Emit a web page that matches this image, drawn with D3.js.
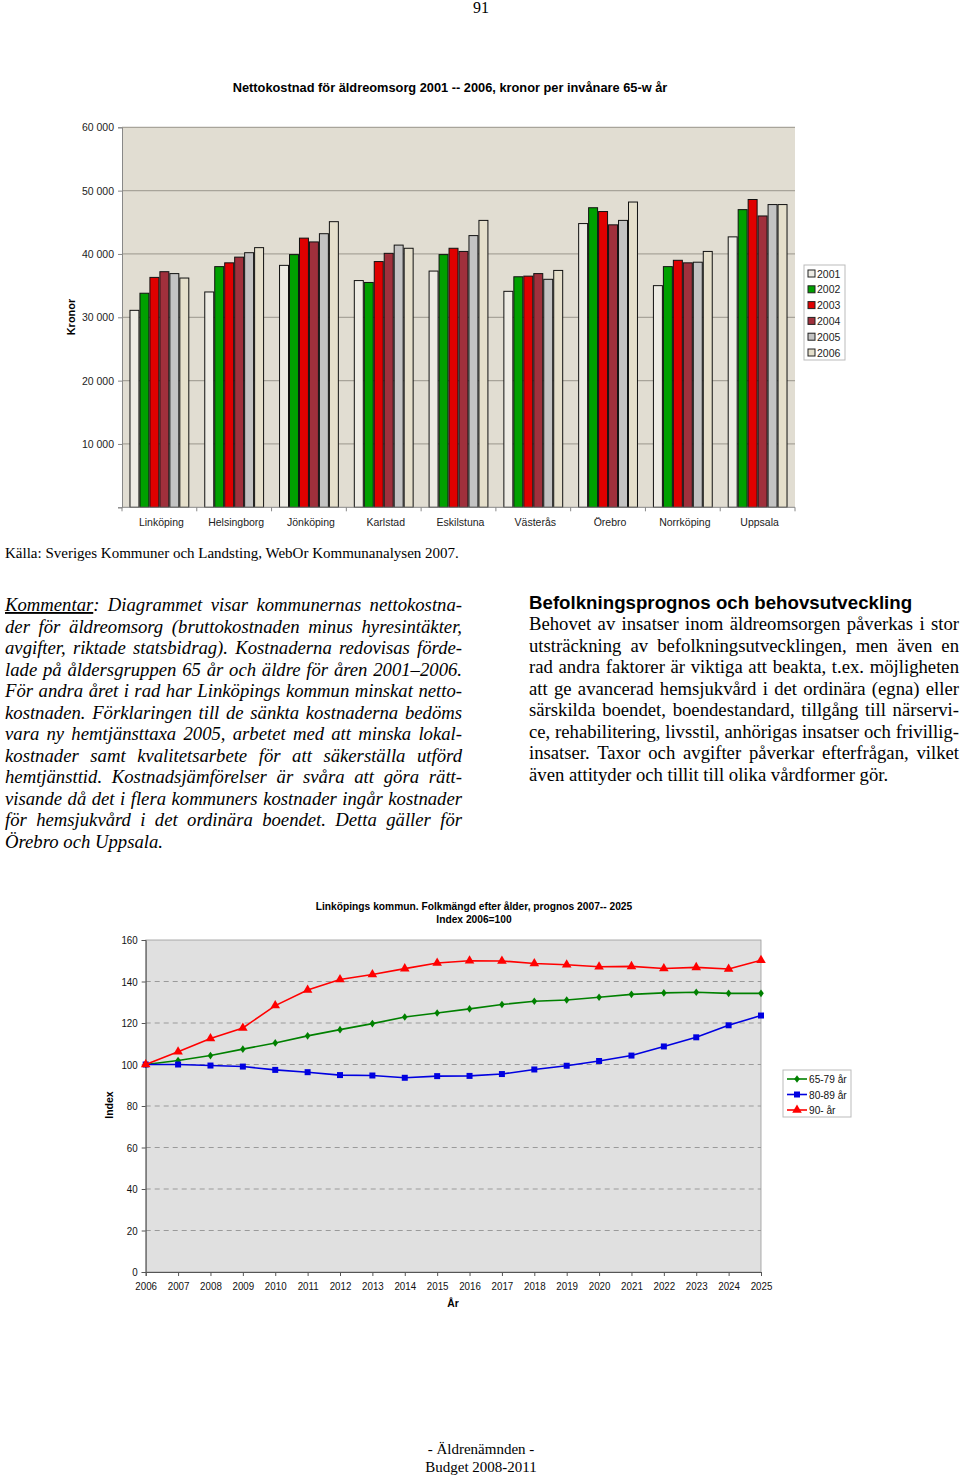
<!DOCTYPE html>
<html><head><meta charset="utf-8">
<script src="https://cdn.jsdelivr.net/npm/d3@7"></script>
<style>
html,body{margin:0;padding:0;background:#fff;}
svg{display:block;}
</style></head>
<body>
<script>
// ---------- DATA ----------
const categories = ["Linköping","Helsingborg","Jönköping","Karlstad","Eskilstuna","Västerås","Örebro","Norrköping","Uppsala"];
const years = ["2001","2002","2003","2004","2005","2006"];
const s2001 = [31100,34000,38200,35800,37300,34100,44800,35000,42700];
const s2002 = [33800,38000,39900,35500,39900,36400,47300,38000,47000];
const s2003 = [36300,38600,42500,38800,40900,36500,46700,39000,48600];
const s2004 = [37200,39500,41900,40100,40400,36900,44600,38600,46000];
const s2005 = [36900,40200,43200,41400,42900,36000,45300,38700,47800];
const s2006 = [36200,41000,45100,40900,45300,37400,48200,40400,47800];
const barTicks = [10000,20000,30000,40000,50000,60000];

const progYears = [2006,2007,2008,2009,2010,2011,2012,2013,2014,2015,2016,2017,2018,2019,2020,2021,2022,2023,2024,2025];
const age6579 = [100,101.9,104.3,107.4,110.4,113.8,116.8,119.7,122.9,124.8,126.8,128.9,130.5,131.1,132.4,133.8,134.5,134.8,134.3,134.3];
const age8089 = [100,100,99.5,99.0,97.4,96.3,94.9,94.7,93.6,94.4,94.5,95.4,97.6,99.4,101.7,104.3,108.7,113.1,118.9,123.6];
const age90 = [100,106.1,112.5,117.6,128.4,135.9,141.0,143.4,146.2,148.9,150.0,149.9,148.7,148.1,147.1,147.3,146.3,146.8,146.0,150.2];
const lineTicks = [0,20,40,60,80,100,120,140,160];
const seriesNames = ["65-79 år","80-89 år","90- år"];

const leftLines = [
 "Diagrammet visar kommunernas nettokostna-",
 "der för äldreomsorg (bruttokostnaden minus hyresintäkter,",
 "avgifter, riktade statsbidrag). Kostnaderna redovisas förde-",
 "lade på åldersgruppen 65 år och äldre för åren 2001–2006.",
 "För andra året i rad har Linköpings kommun minskat netto-",
 "kostnaden. Förklaringen till de sänkta kostnaderna bedöms",
 "vara ny hemtjänsttaxa 2005, arbetet med att minska lokal-",
 "kostnader samt kvalitetsarbete för att säkerställa utförd",
 "hemtjänsttid. Kostnadsjämförelser är svåra att göra rätt-",
 "visande då det i flera kommuners kostnader ingår kostnader",
 "för hemsjukvård i det ordinära boendet. Detta gäller för",
 "Örebro och Uppsala."
];
const rightLines = [
 "Behovet av insatser inom äldreomsorgen påverkas i stor",
 "utsträckning av befolkningsutvecklingen, men även en",
 "rad andra faktorer är viktiga att beakta, t.ex. möjligheten",
 "att ge avancerad hemsjukvård i det ordinära (egna) eller",
 "särskilda boendet, boendestandard, tillgång till närservi-",
 "ce, rehabilitering, livsstil, anhörigas insatser och frivillig-",
 "insatser. Taxor och avgifter påverkar efterfrågan, vilket",
 "även attityder och tillit till olika vårdformer gör."
];

// ---------- PAGE ----------
const W = 960, H = 1478;
const svg = d3.select("body").append("svg").attr("width", W).attr("height", H);
const SANS = "'Liberation Sans', Arial, sans-serif";
const SERIF = "'Liberation Serif', 'Times New Roman', serif";
const NARROW = "'Liberation Sans Narrow', 'Arial Narrow', 'Liberation Sans', sans-serif";
const NX = 0.85; // horizontal squeeze to mimic a narrow face

svg.append("text").attr("x", 481).attr("y", 13).attr("text-anchor","middle")
  .style("font-family", SERIF).style("font-size","16px").text("91");

// ---------- BAR CHART ----------
const bx0 = 122, bx1 = 795, by0 = 127.3, by1 = 507.3;
const yB = d3.scaleLinear().domain([0,60000]).range([by1, by0]);
const xB = d3.scaleBand().domain(categories).range([bx0, bx1]).paddingInner(0.2).paddingOuter(0.1);
const xYear = d3.scaleBand().domain(years).range([0, xB.bandwidth()]);
const barColors = ["#EDEBE4","#00A000","#E00000","#A0303C","#C3C3C3","#E5DFCB"];
const cB = d3.scaleOrdinal().domain(years).range(barColors);
const seriesB = [s2001,s2002,s2003,s2004,s2005,s2006];

svg.append("text").attr("x", 450).attr("y", 92).attr("text-anchor","middle")
  .style("font-family", SANS).style("font-weight","bold").style("font-size","12.8px")
  .text("Nettokostnad för äldreomsorg 2001 -- 2006, kronor per invånare 65-w år");

svg.append("rect").attr("x", bx0).attr("y", by0).attr("width", bx1-bx0).attr("height", by1-by0)
  .attr("fill", "#E1DDD2");

const gB = svg.append("g");
gB.selectAll("line.grid").data(barTicks).join("line")
  .attr("x1", bx0).attr("x2", bx1).attr("y1", d=>yB(d)).attr("y2", d=>yB(d))
  .attr("stroke", "#A8A49A").attr("stroke-width", 1.3);

const groups = gB.selectAll("g.cat").data(categories).join("g")
  .attr("transform", d=>`translate(${xB(d)},0)`);
groups.selectAll("rect").data((d,i)=>years.map((y,j)=>({year:y, v:seriesB[j][i]}))).join("rect")
  .attr("x", d=>xYear(d.year)+0.5).attr("width", xYear.bandwidth()-1)
  .attr("y", d=>yB(d.v)).attr("height", d=>by1 - yB(d.v))
  .attr("fill", d=>cB(d.year)).attr("stroke", "#111").attr("stroke-width", 1);

const axL = d3.axisLeft(yB).tickValues([0].concat(barTicks)).tickSize(4).tickPadding(4)
  .tickFormat(d => d === 0 ? "" : d3.format(",")(d).replace(",", " "));
const gAxL = svg.append("g").attr("transform", `translate(${bx0},0)`).call(axL);
gAxL.selectAll("text").style("font-family", SANS).style("font-size","10.5px").attr("fill","#222");
gAxL.selectAll("line, path").attr("stroke","#888");

const gAxB = svg.append("g").attr("transform", `translate(0,${by1})`);
gAxB.append("line").attr("x1", bx0).attr("x2", bx1).attr("stroke","#888");
gAxB.selectAll("line.tk").data(d3.range(categories.length+1)).join("line")
  .attr("x1", i=>bx0 + i*xB.step()).attr("x2", i=>bx0 + i*xB.step()).attr("y1",0).attr("y2",4).attr("stroke","#888");
gAxB.selectAll("text").data(categories).join("text")
  .attr("x", d=>xB(d)+xB.bandwidth()/2 + 2).attr("y", 19).attr("text-anchor","middle")
  .style("font-family", SANS).style("font-size","10.5px").attr("fill","#222").text(d=>d);

svg.append("text").attr("transform","translate(75,317) rotate(-90)").attr("text-anchor","middle")
  .style("font-family", SANS).style("font-weight","bold").style("font-size","11px").text("Kronor");

const lgB = svg.append("g").attr("transform","translate(804,265)");
lgB.append("rect").attr("width",41).attr("height",95).attr("fill","#fff").attr("stroke","#bbb");
years.forEach((y,i)=>{
  const g = lgB.append("g").attr("transform", `translate(0,${8.5 + i*15.8})`);
  g.append("rect").attr("x",4).attr("y",-3.5).attr("width",7).attr("height",7).attr("fill",cB(y)).attr("stroke","#222");
  g.append("text").attr("x",13).attr("y",4).style("font-family",SANS).style("font-size","10.5px").attr("fill","#222").text(y);
});

svg.append("text").attr("x", 5).attr("y", 558)
  .style("font-family", SERIF).style("font-size","15px")
  .text("Källa: Sveriges Kommuner och Landsting, WebOr Kommunanalysen 2007.");

// ---------- TEXT COLUMNS ----------
function justify(t, width, doIt){
  if(!doIt) return;
  const node = t.node();
  const nat = node.getComputedTextLength();
  const s = node.textContent.split(" ").length - 1;
  if (s > 0) t.attr("word-spacing", (width - nat)/s);
}
leftLines.forEach((line,i)=>{
  const t = svg.append("text").attr("x",5).attr("y", 611 + i*21.5)
    .style("font-family",SERIF).style("font-style","italic").style("font-size","18.7px");
  if (i === 0){
    t.append("tspan").style("text-decoration","underline").text("Kommentar");
    t.append("tspan").text(": " + line);
  } else t.text(line);
  justify(t, 457, i < leftLines.length-1);
});
svg.append("text").attr("x",529).attr("y",609)
  .style("font-family",SANS).style("font-weight","bold").style("font-size","18.7px")
  .text("Befolkningsprognos och behovsutveckling");
rightLines.forEach((line,i)=>{
  const t = svg.append("text").attr("x",529).attr("y", 630 + i*21.5)
    .style("font-family",SERIF).style("font-size","18.7px").text(line);
  justify(t, 430, i < rightLines.length-1);
});

// ---------- LINE CHART ----------
const lx0 = 145.7, lx1 = 761, ly0 = 940, ly1 = 1272;
const xL = d3.scaleLinear().domain([2006,2025]).range([lx0,lx1]);
const yL = d3.scaleLinear().domain([0,160]).range([ly1,ly0]);
const lineColors = ["#008000","#0000E0","#FF0000"];
const lineData = [age6579, age8089, age90];

function narrowText(x, y, txt, size, bold, sx){
  const g = svg.append("g").attr("transform",`translate(${x},${y}) scale(${sx},1)`);
  g.append("text").attr("text-anchor","middle")
    .style("font-family",NARROW).style("font-weight",bold?"bold":"normal").style("font-size",size)
    .text(txt);
  return g;
}
narrowText(474, 910, "Linköpings kommun. Folkmängd efter ålder, prognos 2007-- 2025", "11.5px", true, 0.89);
narrowText(474, 923, "Index 2006=100", "11.5px", true, 0.89);

svg.append("rect").attr("x",lx0).attr("y",ly0).attr("width",lx1-lx0).attr("height",ly1-ly0)
  .attr("fill","#E0E0E0").attr("stroke","#9a9a9a").attr("stroke-width",0.8);
svg.append("g").selectAll("line").data(lineTicks.filter(d=>d>0 && d<160)).join("line")
  .attr("x1",lx0).attr("x2",lx1).attr("y1",d=>yL(d)).attr("y2",d=>yL(d))
  .attr("stroke","#9a9a9a").attr("stroke-dasharray","5,4").attr("stroke-width",1);

const axYL = d3.axisLeft(yL).tickValues(lineTicks).tickSize(4).tickPadding(4);
const gYL = svg.append("g").attr("transform",`translate(${lx0},0)`).call(axYL);
gYL.selectAll("text").style("font-family",NARROW).style("font-size","11.5px").attr("fill","#111")
  .attr("x", -8/NX).attr("transform", `scale(${NX},1)`);
gYL.selectAll("line, path").attr("stroke","#555");
const axXL = d3.axisBottom(xL).tickValues(progYears).tickFormat(d3.format("d")).tickSize(4).tickPadding(6);
const gXL = svg.append("g").attr("transform",`translate(0,${ly1})`).call(axXL);
gXL.selectAll("text").style("font-family",NARROW).style("font-size","11.5px").attr("fill","#111")
  .attr("transform", `scale(${NX},1)`);
gXL.selectAll("line, path").attr("stroke","#555");

svg.append("text").attr("transform","translate(113,1105) rotate(-90)").attr("text-anchor","middle")
  .style("font-family",SANS).style("font-weight","bold").style("font-size","10.5px").text("Index");
narrowText(453, 1307, "År", "11.5px", true, 0.9);

const lineGen = d3.line().x((d,i)=>xL(progYears[i])).y(d=>yL(d));
const symTypes = [d3.symbolDiamond, d3.symbolSquare, d3.symbolTriangle];
const symSizes = [28, 36, 40];
function marker(g, k){
  if (k === 0) g.append("path").attr("d","M0,-3.8L2.8,0L0,3.8L-2.8,0Z");
  else g.append("path").attr("d", d3.symbol(symTypes[k], symSizes[k])());
}
lineData.forEach((arr,k)=>{
  svg.append("path").datum(arr).attr("d",lineGen).attr("fill","none")
    .attr("stroke",lineColors[k]).attr("stroke-width",1.6);
  const mk = svg.append("g").attr("fill",lineColors[k]);
  arr.forEach((v,i)=>{
    const g = mk.append("g").attr("transform",`translate(${xL(progYears[i])},${yL(v)})`);
    marker(g,k);
  });
});

const lgL = svg.append("g").attr("transform","translate(783,1070)");
lgL.append("rect").attr("width",68).attr("height",47).attr("fill","#fff").attr("stroke","#bbb");
seriesNames.forEach((n,k)=>{
  const g = lgL.append("g").attr("transform",`translate(0,${9 + k*15.5})`);
  g.append("line").attr("x1",4).attr("x2",24).attr("stroke",lineColors[k]).attr("stroke-width",1.6);
  const m = g.append("g").attr("transform","translate(14,0)").attr("fill",lineColors[k]);
  marker(m,k);
  g.append("text").attr("transform","translate(26,4) scale(0.88,1)")
    .style("font-family",NARROW).style("font-size","11.5px").attr("fill","#111").text(n);
});

// ---------- FOOTER ----------
svg.append("text").attr("x",481).attr("y",1454).attr("text-anchor","middle")
  .style("font-family",SERIF).style("font-size","15px").text("- Äldrenämnden -");
svg.append("text").attr("x",481).attr("y",1472).attr("text-anchor","middle")
  .style("font-family",SERIF).style("font-size","15px").text("Budget 2008-2011");
</script>
</body></html>
